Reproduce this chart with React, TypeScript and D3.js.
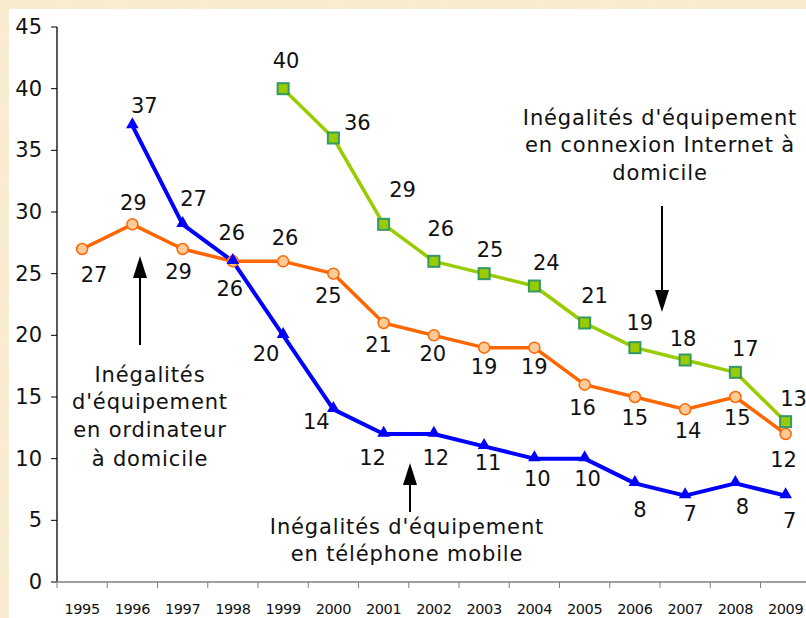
import React from "react";
import * as d3 from "d3";

const years = ["1995","1996","1997","1998","1999","2000","2001","2002","2003","2004","2005","2006","2007","2008","2009"];
const yTicks = [0, 5, 10, 15, 20, 25, 30, 35, 40, 45];

// Inégalités d'équipement en ordinateur à domicile
const ordiYears = years;
const ordiValues = [27, 29, 27, 26, 26, 25, 21, 20, 19, 19, 16, 15, 14, 15, 12];
const ordiLabels = ["27","29","29","26","26","25","21","20","19","19","16","15","14","15","12"];

// Inégalités d'équipement en téléphone mobile
const mobileYears = years.slice(1);
const mobileValues = [37, 29, 26, 20, 14, 12, 12, 11, 10, 10, 8, 7, 8, 7];
const mobileLabels = ["37","27","26","20","14","12","12","11","10","10","8","7","8","7"];

// Inégalités d'équipement en connexion Internet à domicile
const netYears = years.slice(4);
const netValues = [40, 36, 29, 26, 25, 24, 21, 19, 18, 17, 13];
const netLabels = ["40","36","29","26","25","24","21","19","18","17","13"];

// label placement offsets (dx, dy) relative to each point
const ordiOff: [number, number][] = [[12,26],[1,-21],[-4,23],[-1,-28],[2,-23],[-5,22],[-5,22],[-1,19],[0,19],[0,19],[-2,23],[0,21],[3,22],[2,21],[-2,26]];
const mobileOff: [number, number][] = [[12,-20],[11,-25],[-3,28],[-17,19],[-17,13],[-11,24],[2,24],[4,17],[3,20],[3,20],[5,27],[5,18],[7,24],[4,25]];
const netOff: [number, number][] = [[3,-28],[24,-15],[19,-34],[7,-32],[6,-24],[12,-23],[10,-27],[5,-25],[-2,-21],[10,-23],[8,-23]];

const FONT = "'DejaVu Sans', Verdana, sans-serif";

export default function App() {
  const W = 806, H = 618;
  const x0 = 57, bw = 50.25;
  const x = d3.scaleBand<string>().domain(years).range([x0, x0 + bw * years.length]).paddingInner(0).paddingOuter(0);
  const y = d3.scaleLinear().domain([0, 45]).range([582, 27]);
  const cx = (yr: string) => (x(yr) as number) + x.bandwidth() / 2;

  const line = d3.line<[string, number]>().x(d => cx(d[0])).y(d => y(d[1]));
  const ordiPts = ordiYears.map((yr, i) => [yr, ordiValues[i]] as [string, number]);
  const mobPts = mobileYears.map((yr, i) => [yr, mobileValues[i]] as [string, number]);
  const netPts = netYears.map((yr, i) => [yr, netValues[i]] as [string, number]);

  const tri = d3.symbol().type(d3.symbolTriangle).size(70)() as string;

  const labelStyle = { fontFamily: FONT, fontSize: 21, fill: "#111" } as const;
  const annStyle = { fontFamily: FONT, fontSize: 21, fill: "#111", letterSpacing: 0.85 } as const;

  const arrowUp = (ax: number, tip: number, bottom: number) => (
    <g>
      <line x1={ax} x2={ax} y1={bottom} y2={tip + 18} stroke="#000" strokeWidth={2} />
      <path d={`M${ax},${tip} L${ax - 7},${tip + 22} L${ax + 7},${tip + 22} Z`} fill="#000" />
    </g>
  );
  const arrowDown = (ax: number, top: number, tip: number) => (
    <g>
      <line x1={ax} x2={ax} y1={top} y2={tip - 18} stroke="#000" strokeWidth={2} />
      <path d={`M${ax},${tip} L${ax - 7},${tip - 22} L${ax + 7},${tip - 22} Z`} fill="#000" />
    </g>
  );

  return (
    <svg width={W} height={H} style={{ position: "absolute", left: 0, top: 0, display: "block" }}>
      <defs>
        <filter id="tex" x="0" y="0" width="100%" height="100%">
          <feTurbulence type="fractalNoise" baseFrequency="0.04" numOctaves={3} seed={3} result="n" />
          <feColorMatrix type="matrix" values="0 0 0 0 0.96  0 0 0 0 0.90  0 0 0 0 0.78  0 0 0 0.35 0" />
        </filter>
      </defs>
      <rect x={0} y={0} width={W} height={H} fill="#F8EACB" />
      <rect x={0} y={0} width={W} height={H} filter="url(#tex)" />
      <rect x={9} y={9} width={W - 9} height={H - 9} fill="#FFFFFF" />

      {/* Y axis */}
      <line x1={x0} x2={x0} y1={y(45)} y2={y(0)} stroke="#000" strokeWidth={1.3} />
      {yTicks.map(t => (
        <g key={t}>
          <line x1={x0 - 6} x2={x0} y1={y(t)} y2={y(t)} stroke="#000" strokeWidth={1} />
          <text x={42} y={y(t)} textAnchor="end" dominantBaseline="central" style={labelStyle}>{t}</text>
        </g>
      ))}
      {/* X axis */}
      <line x1={x0 - 6} x2={W} y1={y(0)} y2={y(0)} stroke="#808080" strokeWidth={1.5} />
      {years.map((yr) => (
        <g key={yr}>
          <line x1={(x(yr) as number)} x2={(x(yr) as number)} y1={y(0)} y2={y(0) + 6} stroke="#808080" strokeWidth={1} />
          <text x={cx(yr)} y={614} textAnchor="middle" style={{ fontFamily: FONT, fontSize: 14.5, letterSpacing: -0.4, fill: "#111" }}>{yr}</text>
        </g>
      ))}

      {/* lines */}
      <path d={line(netPts) as string} fill="none" stroke="#99CC00" strokeWidth={3.5} strokeLinejoin="round" />
      <path d={line(ordiPts) as string} fill="none" stroke="#FF6600" strokeWidth={3.5} strokeLinejoin="round" />
      <path d={line(mobPts) as string} fill="none" stroke="#0000FF" strokeWidth={4} strokeLinejoin="round" />

      {/* markers */}
      {ordiPts.map(([yr, v]) => (
        <circle key={"o" + yr} cx={cx(yr)} cy={y(v)} r={5.5} fill="#FFCC99" stroke="#FF6600" strokeWidth={1.5} />
      ))}
      {netPts.map(([yr, v]) => (
        <rect key={"n" + yr} x={cx(yr) - 5.5} y={y(v) - 5.5} width={11} height={11} fill="#99CC00" stroke="#339966" strokeWidth={2} />
      ))}
      {mobPts.map(([yr, v]) => (
        <path key={"m" + yr} d={tri} transform={`translate(${cx(yr)},${y(v) - 1})`} fill="#0000FF" />
      ))}

      {/* data labels */}
      {ordiPts.map(([yr, v], i) => (
        <text key={"ol" + yr} x={cx(yr) + ordiOff[i][0]} y={y(v) + ordiOff[i][1]} textAnchor="middle" dominantBaseline="central" style={labelStyle}>{ordiLabels[i]}</text>
      ))}
      {mobPts.map(([yr, v], i) => (
        <text key={"ml" + yr} x={cx(yr) + mobileOff[i][0]} y={y(v) + mobileOff[i][1]} textAnchor="middle" dominantBaseline="central" style={labelStyle}>{mobileLabels[i]}</text>
      ))}
      {netPts.map(([yr, v], i) => (
        <text key={"nl" + yr} x={cx(yr) + netOff[i][0]} y={y(v) + netOff[i][1]} textAnchor="middle" dominantBaseline="central" style={labelStyle}>{netLabels[i]}</text>
      ))}

      {/* annotations */}
      <text textAnchor="middle" style={annStyle}>
        <tspan x={150} y={382}>Inégalités</tspan>
        <tspan x={150} y={409}>d'équipement</tspan>
        <tspan x={150} y={437}>en ordinateur</tspan>
        <tspan x={150} y={466}>à domicile</tspan>
      </text>
      {arrowUp(140, 256, 345)}

      <text textAnchor="middle" style={annStyle}>
        <tspan x={407} y={534}>Inégalités d'équipement</tspan>
        <tspan x={407} y={561}>en téléphone mobile</tspan>
      </text>
      {arrowUp(410, 463, 512)}

      <text textAnchor="middle" style={annStyle}>
        <tspan x={660} y={125}>Inégalités d'équipement</tspan>
        <tspan x={660} y={152}>en connexion Internet à</tspan>
        <tspan x={660} y={180}>domicile</tspan>
      </text>
      {arrowDown(662, 206, 312)}
    </svg>
  );
}
